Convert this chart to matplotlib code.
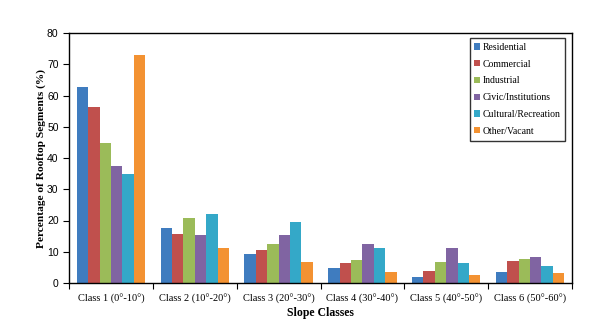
import numpy as np
import matplotlib.pyplot as plt

classes = ["Class 1 (0°-10°)", "Class 2 (10°-20°)", "Class 3 (20°-30°)",
           "Class 4 (30°-40°)", "Class 5 (40°-50°)", "Class 6 (50°-60°)"]
series = ["Residential", "Commercial", "Industrial",
          "Civic/Institutions", "Cultural/Recreation", "Other/Vacant"]

residential = [62.8, 17.7, 9.4, 4.7, 2.0, 3.6]
commercial = [56.4, 15.8, 10.7, 6.3, 3.9, 7.1]
industrial = [44.9, 20.9, 12.6, 7.3, 6.8, 7.8]
civic = [37.5, 15.5, 15.5, 12.6, 11.3, 8.4]
cultural = [35.0, 22.2, 19.6, 11.3, 6.5, 5.5]
other = [72.9, 11.3, 6.8, 3.6, 2.7, 3.3]

values = [residential, commercial, industrial, civic, cultural, other]
colors = ["#3f7cbf", "#c0504d", "#9bbb59", "#8064a2", "#34a8c8", "#f39232"]

serif = "Liberation Serif"
sans = "Liberation Sans"

fig = plt.figure(figsize=(6.07, 3.34), dpi=100)
ax = fig.add_axes([69 / 607, 1 - 283 / 334, (572 - 69) / 607, (283 - 33) / 334])

x = np.arange(len(classes))
w = 0.136
for i, (name, vals) in enumerate(zip(series, values)):
    ax.bar(x + (i - 2.5) * w, vals, w, color=colors[i], label=name, linewidth=0)

ax.set_xlim(-0.5, len(classes) - 0.5)
ax.set_ylim(0, 80)
ax.set_yticks(range(0, 81, 10))
ax.set_xticks(x)
ax.set_xticklabels(classes, family=serif, fontsize=7.5)
ax.set_xticks(np.arange(-0.5, len(classes)), minor=True)
ax.tick_params(axis="x", which="major", length=0, pad=8)
ax.tick_params(axis="x", which="minor", length=4, direction="out", width=0.8)
ax.tick_params(axis="y", length=4, direction="out", width=0.8, labelsize=7.5)
for lab in ax.get_yticklabels():
    lab.set_family(sans)

for sp in ax.spines.values():
    sp.set_linewidth(1.0)

ax.set_xlabel("Slope Classes", family=serif, fontsize=8.5, fontweight="bold", labelpad=2)
ax.set_ylabel("Percentage of Rooftop Segments (%)", family=serif, fontsize=8.2,
              fontweight="bold", labelpad=1)

leg = ax.legend(loc="upper right", bbox_to_anchor=(0.986, 0.98), borderaxespad=0,
                prop={"family": serif, "size": 7}, frameon=True, fancybox=False,
                handlelength=0.6, handleheight=0.6, handletextpad=0.2,
                labelspacing=0.8, borderpad=0.5)
leg.get_frame().set_edgecolor("black")
leg.get_frame().set_linewidth(1.0)

fig.savefig("out.png", dpi=100)
